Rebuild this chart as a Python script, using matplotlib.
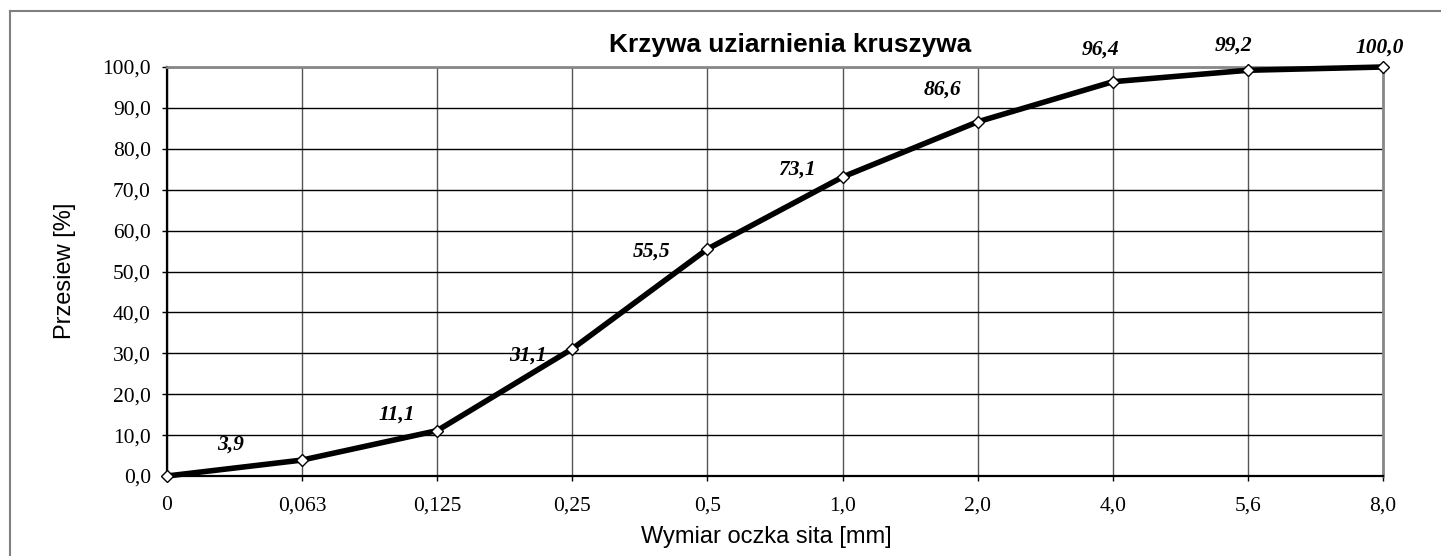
import matplotlib.pyplot as plt
from matplotlib.lines import Line2D

# sieve sizes (category labels) and cumulative passing [%]
sieves = ["0", "0,063", "0,125", "0,25", "0,5", "1,0", "2,0", "4,0", "5,6", "8,0"]
passing = [0.0, 3.9, 11.1, 31.1, 55.5, 73.1, 86.6, 96.4, 99.2, 100.0]
label_texts = ["", "3,9", "11,1", "31,1", "55,5", "73,1", "86,6", "96,4", "99,2", "100,0"]

# hand-placed label offsets in pixels (dx, dy), like the manually moved labels in the source
label_offsets = [(0, 0), (-72, 15), (-40, 16), (-44, -7), (-56, -3), (-46, 7),
                 (-35, 32), (-12, 32), (-14, 25), (-3, 19)]

W, H = 1441, 556
fig = plt.figure(figsize=(W / 100, H / 100), dpi=100)
ax = fig.add_axes([167 / W, 1 - 476 / H, (1383 - 167) / W, (476 - 67) / H])

serif = "Liberation Serif"
sans = "Liberation Sans"

x = list(range(len(sieves)))
ax.plot(x, passing, color="black", lw=4, solid_joinstyle="round", zorder=3,
        marker="D", markersize=6.5, markerfacecolor="white", markeredgecolor="black",
        markeredgewidth=1.0, clip_on=False)

for xi, yi, txt, (dx, dy) in zip(x, passing, label_texts, label_offsets):
    if not txt:
        continue
    ax.annotate(txt, (xi, yi), xytext=(dx, dy), textcoords="offset pixels",
                ha="center", va="center", fontsize=15.5, fontweight="bold",
                fontstyle="italic", family=serif, annotation_clip=False)

ax.set_xlim(0, len(sieves) - 1)
ax.set_ylim(0, 100)
ax.set_xticks(x)
ax.set_xticklabels(sieves, family=serif, fontsize=15.5)
yt = list(range(0, 101, 10))
ax.set_yticks(yt)
ax.set_yticklabels([f"{v:.1f}".replace(".", ",") for v in yt], family=serif, fontsize=15.5)
ax.tick_params(axis="both", direction="out", length=3.6, width=1, color="black")
ax.tick_params(axis="y", pad=8)
ax.tick_params(axis="x", pad=11)

ax.grid(axis="y", color="black", lw=1.0)
ax.grid(axis="x", color="#555555", lw=1.0)
ax.set_axisbelow(True)

for side in ["left", "bottom"]:
    ax.spines[side].set_color("black")
    ax.spines[side].set_linewidth(1.6)
for side in ["top", "right"]:
    ax.spines[side].set_color("#888888")
    ax.spines[side].set_linewidth(2)

fig.text(766 / W, 1 - 537 / H, "Wymiar oczka sita [mm]", ha="center", va="center",
         family=sans, fontsize=17)
fig.text(65 / W, 1 - 271 / H, "Przesiew [%]", ha="center", va="center", rotation=90,
         family=sans, fontsize=17)
fig.text(790 / W, 1 - 45 / H, "Krzywa uziarnienia kruszywa", ha="center", va="center",
         family=sans, fontsize=18.9, fontweight="bold")

# outer chart-area frame (only left and top edges visible in the crop)
fig.add_artist(Line2D([10 / W, 10 / W], [0, 1 - 11 / H], color="#808080", lw=1.5,
                      transform=fig.transFigure))
fig.add_artist(Line2D([10 / W, 1], [1 - 11 / H, 1 - 11 / H], color="#808080", lw=1.5,
                      transform=fig.transFigure))

fig.savefig("out.png", dpi=100)
